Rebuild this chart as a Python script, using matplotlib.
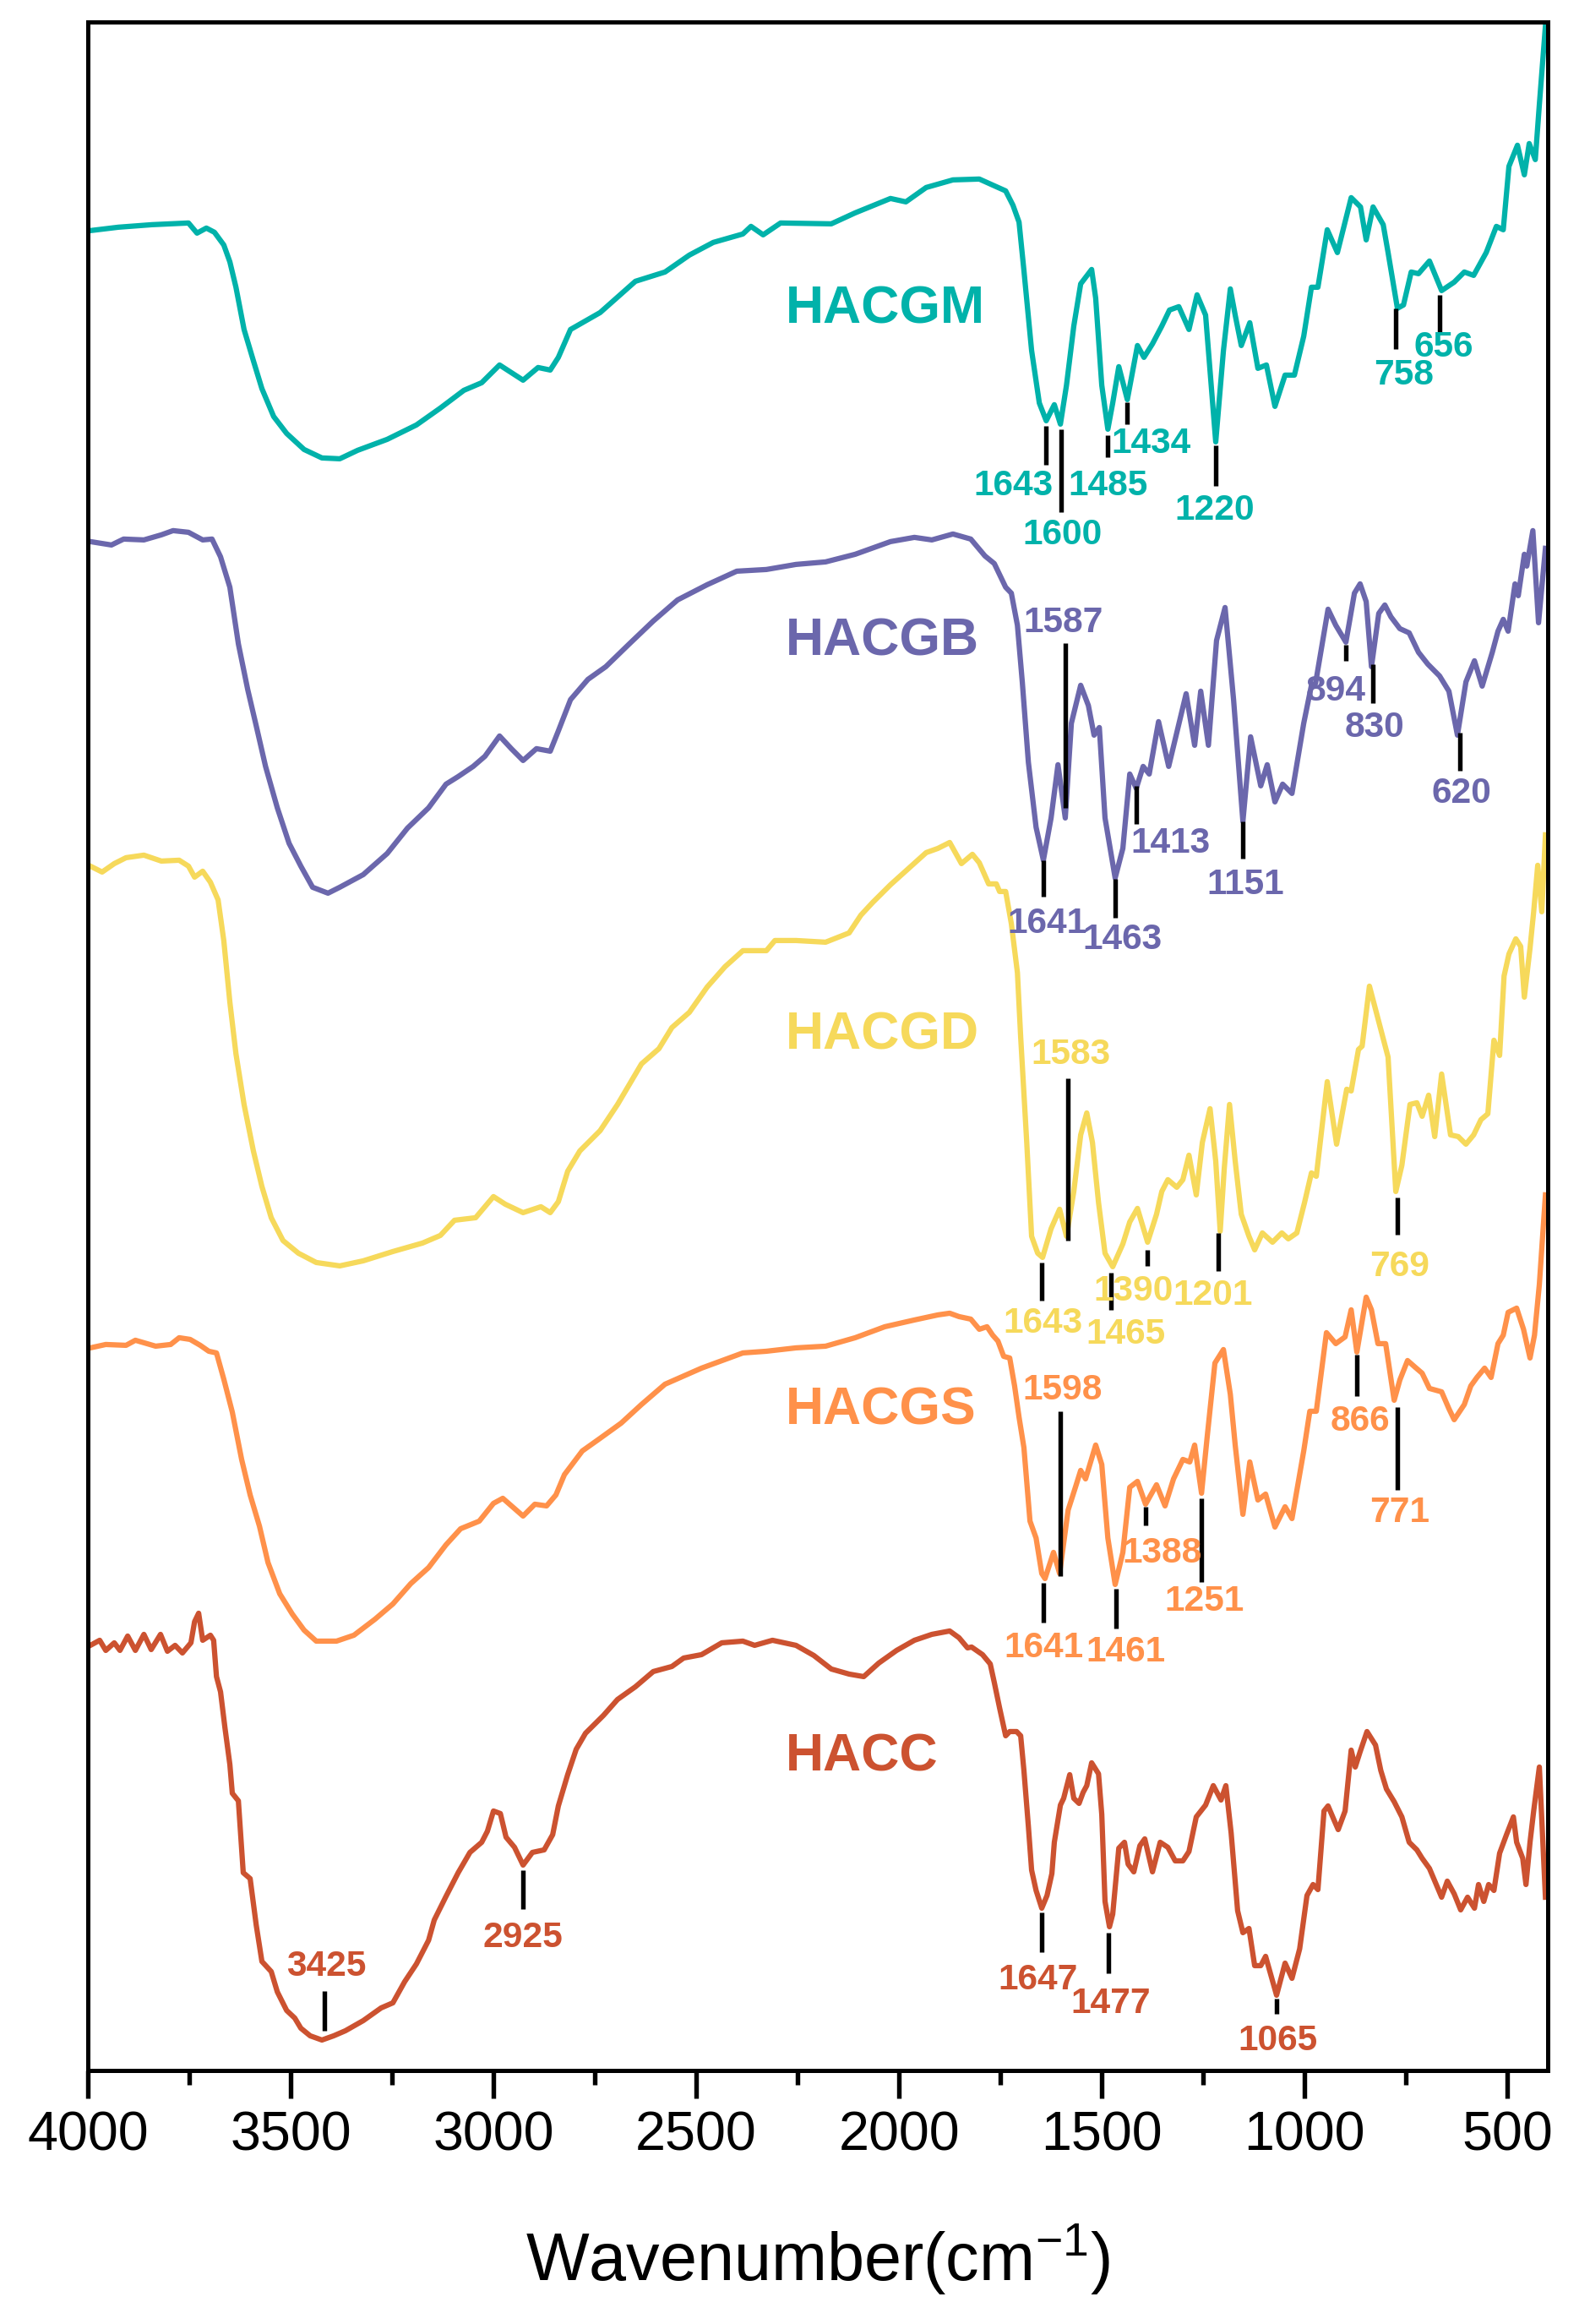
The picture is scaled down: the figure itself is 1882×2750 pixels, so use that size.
import matplotlib
matplotlib.use("Agg")
import matplotlib.pyplot as plt
from matplotlib.ticker import MultipleLocator

# -----------------------------------
# FTIR spectra (offset transmittance, a.u.)
# -----------------------------------

wn_hacgm = [3994, 3925, 3842, 3752, 3731, 3708, 3688, 3665, 3650, 3635, 3615, 3592, 3571, 3542,
            3510, 3467, 3423, 3379, 3335, 3262, 3190, 3131, 3073, 3029, 2985, 2927, 2890, 2860,
            2840, 2810, 2737, 2650, 2577, 2517, 2458, 2385, 2365, 2335, 2292, 2167, 2108, 2021,
            1983, 1933, 1867, 1802, 1765, 1737, 1719, 1704, 1692, 1673, 1654, 1637, 1617, 1602,
            1587, 1569, 1552, 1525, 1515, 1500, 1485, 1473, 1458, 1437, 1412, 1396, 1375, 1352,
            1333, 1310, 1285, 1265, 1244, 1219, 1200, 1183, 1171, 1156, 1135, 1115, 1094, 1073,
            1048, 1025, 1002, 983, 967, 944, 919, 885, 862, 848, 831, 806, 794, 771, 756, 737,
            719, 692, 662, 631, 606, 583, 552, 527, 510, 496, 475, 458, 446, 431, 421, 406]
t_hacgm = [217.7, 218.1, 218.4, 218.6, 217.4, 218.0, 217.5, 216.0, 214.0, 211.0, 206.0, 202.3, 199.0, 195.7,
           193.7, 191.8, 190.8, 190.7, 191.7, 193.0, 194.7, 196.7, 198.8, 199.7, 201.8, 200.0, 201.5, 201.2,
           202.7, 206.0, 208.0, 211.7, 212.8, 214.8, 216.3, 217.3, 218.2, 217.2, 218.6, 218.5, 219.8, 221.5,
           221.1, 222.8, 223.7, 223.8, 223.0, 222.4, 220.7, 218.7, 213.0, 203.5, 197.3, 195.2, 197.1, 194.8,
           199.4, 206.4, 211.4, 213.1, 209.7, 199.4, 194.2, 197.3, 201.6, 197.7, 204.1, 202.7, 204.3, 206.4,
           208.3, 208.7, 206.0, 210.1, 207.7, 192.7, 203.5, 210.8, 207.7, 204.1, 206.8, 201.4, 201.8, 196.9,
           200.6, 200.6, 205.2, 211.0, 211.0, 217.8, 215.1, 221.6, 220.5, 216.6, 220.5, 218.4, 215.1, 208.5, 208.9, 212.8,
           212.6, 214.1, 210.6, 211.6, 212.8, 212.4, 215.1, 218.2, 217.8, 225.3, 227.8, 224.3, 228.0, 226.1, 232.6, 241.9]

wn_hacgb = [3994, 3942, 3912, 3862, 3819, 3790, 3752, 3717, 3694, 3673, 3650, 3629, 3606, 3585,
            3562, 3533, 3504, 3475, 3446, 3408, 3379, 3321, 3262, 3212, 3160, 3117, 3087, 3050,
            3021, 2985, 2956, 2927, 2894, 2860, 2840, 2810, 2767, 2723, 2665, 2606, 2546, 2473,
            2400, 2327, 2254, 2181, 2108, 2021, 1962, 1919, 1867, 1823, 1788, 1765, 1737, 1723,
            1708, 1696, 1681, 1662, 1644, 1625, 1608, 1590, 1575, 1552, 1533, 1519, 1506, 1492,
            1467, 1448, 1431, 1415, 1398, 1383, 1360, 1335, 1292, 1271, 1256, 1237, 1217, 1196,
            1175, 1152, 1133, 1108, 1092, 1073, 1054, 1031, 1002, 983, 973, 942, 923, 898, 877,
            863, 848, 835, 817, 802, 787, 765, 742, 719, 696, 667, 644, 623, 602, 581, 562, 537,
            523, 510, 498, 481, 473, 458, 452, 437, 423, 406]
t_hacgb = [180.9, 180.5, 181.2, 181.1, 181.7, 182.2, 182.0, 181.1, 181.2, 179.1, 175.5, 168.8, 163.4, 159.1,
           154.3, 149.4, 145.2, 142.5, 140.0, 139.3, 140.0, 141.5, 144.0, 147.0, 149.4, 152.2, 153.1, 154.3,
           155.5, 157.9, 156.4, 155.0, 156.4, 156.1, 158.5, 162.2, 164.6, 166.1, 168.8, 171.5, 174.0, 175.8,
           177.4, 177.6, 178.2, 178.5, 179.4, 180.9, 181.4, 181.1, 181.8, 181.2, 179.2, 178.3, 175.5, 174.8,
           171.0, 164.3, 154.8, 147.1, 143.2, 148.2, 154.5, 148.2, 159.4, 163.9, 161.5, 158.0, 158.9, 148.2,
           141.1, 144.6, 153.4, 151.7, 154.3, 153.4, 159.6, 154.3, 162.9, 156.8, 163.2, 156.8, 169.2, 173.1,
           162.2, 147.8, 157.8, 152.0, 154.5, 150.1, 152.2, 151.1, 159.4, 163.9, 164.1, 172.9, 171.0, 169.0, 174.8,
           175.9, 173.8, 166.1, 172.4, 173.4, 172.0, 170.6, 170.1, 167.8, 166.4, 165.0, 163.2, 158.0, 164.3, 166.8, 163.8, 167.8,
           170.3, 171.7, 170.3, 175.9, 174.5, 179.4, 178.0, 182.2, 171.3, 180.1]

wn_hacgd = [3994, 3965, 3935, 3906, 3862, 3819, 3775, 3752, 3737, 3717, 3698, 3679, 3665, 3650,
            3635, 3615, 3592, 3571, 3548, 3519, 3481, 3437, 3379, 3321, 3248, 3175, 3131, 3096,
            3044, 3000, 2971, 2927, 2883, 2860, 2840, 2817, 2787, 2737, 2694, 2635, 2592, 2560,
            2517, 2473, 2429, 2385, 2327, 2306, 2254, 2181, 2123, 2094, 2065, 2021, 1977, 1933,
            1904, 1875, 1846, 1819, 1802, 1779, 1760, 1752, 1737, 1723, 1708, 1700, 1685, 1673,
            1658, 1646, 1625, 1604, 1587, 1569, 1552, 1537, 1523, 1508, 1492, 1473, 1448, 1431,
            1412, 1387, 1365, 1352, 1337, 1315, 1300, 1285, 1267, 1252, 1233, 1219, 1208, 1198,
            1185, 1171, 1156, 1137, 1123, 1104, 1079, 1056, 1040, 1019, 1000, 983, 971, 944, 921,
            896, 885, 867, 858, 840, 817, 794, 775, 760, 740, 723, 710, 694, 679, 662, 640, 621,
            602, 583, 565, 548, 533, 519, 508, 496, 479, 467, 458, 444, 435, 425, 415, 406]
t_hacgd = [142.5, 141.8, 142.8, 143.5, 143.8, 143.1, 143.2, 142.5, 141.2, 141.9, 140.6, 138.5, 133.7, 126.4,
           120.3, 114.3, 108.8, 104.6, 100.9, 98.2, 96.7, 95.6, 95.2, 95.8, 96.9, 97.9, 98.8, 100.6,
           100.9, 103.4, 102.5, 101.5, 102.2, 101.5, 102.8, 106.4, 108.8, 111.2, 114.3, 119.1, 120.9, 123.4,
           125.2, 128.2, 130.6, 132.5, 132.5, 133.7, 133.7, 133.5, 134.6, 136.7, 138.2, 140.3, 142.2, 144.1,
           144.6, 145.3, 142.8, 143.9, 142.9, 140.4, 140.4, 139.5, 139.5, 135.7, 129.9, 122.3, 109.8, 98.7,
           96.7, 96.2, 99.6, 101.9, 98.7, 104.0, 110.7, 113.3, 109.8, 102.7, 96.7, 95.1, 97.8, 100.4,
           102.0, 98.0, 101.3, 104.0, 105.4, 104.5, 105.4, 108.3, 103.6, 109.8, 113.8, 107.6, 99.3, 106.7,
           114.3, 107.6, 101.3, 98.7, 97.1, 99.1, 98.0, 99.1, 98.4, 99.1, 102.7, 106.2, 105.8, 117.0, 109.6,
           116.1, 115.9, 120.8, 121.2, 128.3, 124.1, 119.9, 104.0, 107.1, 114.3, 114.5, 112.9, 115.4, 110.5, 117.9, 110.7, 110.5,
           109.6, 110.7, 112.5, 113.2, 121.9, 120.1, 129.5, 132.1, 133.9, 133.0, 127.0, 132.8, 137.1, 142.6, 137.1, 146.2]

wn_hacgs = [3994, 3956, 3906, 3883, 3833, 3796, 3775, 3748, 3723, 3702, 3683, 3665, 3644, 3621,
            3600, 3577, 3556, 3527, 3496, 3467, 3437, 3387, 3344, 3292, 3248, 3204, 3160, 3117,
            3081, 3035, 3000, 2977, 2927, 2898, 2869, 2846, 2825, 2781, 2737, 2685, 2635, 2577,
            2487, 2385, 2327, 2254, 2181, 2108, 2035, 1962, 1904, 1875, 1852, 1823, 1802, 1783,
            1769, 1756, 1742, 1727, 1715, 1704, 1692, 1677, 1662, 1648, 1640, 1619, 1604, 1583,
            1565, 1552, 1540, 1515, 1500, 1485, 1467, 1448, 1431, 1412, 1392, 1365, 1344, 1323,
            1300, 1283, 1271, 1254, 1240, 1221, 1200, 1183, 1171, 1152, 1135, 1115, 1096, 1073,
            1048, 1031, 1002, 987, 971, 946, 923, 900, 885, 871, 848, 835, 819, 800, 779, 765,
            746, 727, 710, 692, 662, 644, 631, 606, 590, 575, 556, 540, 523, 510, 498, 477, 460,
            444, 433, 421, 406]
t_hacgs = [85.5, 85.9, 85.8, 86.4, 85.7, 85.9, 86.7, 86.5, 85.8, 85.1, 84.9, 81.8, 77.9, 72.3,
           68.1, 64.4, 60.1, 56.4, 54.0, 52.1, 50.8, 50.8, 51.5, 53.4, 55.2, 57.6, 59.5, 62.2,
           64.1, 65.0, 67.1, 67.7, 65.6, 67.0, 66.8, 68.1, 70.5, 73.3, 74.8, 76.6, 78.8, 81.2,
           83.1, 84.9, 85.1, 85.5, 85.7, 86.7, 88.0, 88.8, 89.4, 89.6, 89.2, 88.9, 87.7, 88.0,
           87.0, 86.3, 84.5, 84.3, 81.0, 77.3, 73.7, 65.0, 63.0, 58.8, 58.2, 61.3, 58.8, 66.3,
           69.0, 71.0, 70.0, 74.0, 71.7, 63.0, 57.5, 61.3, 69.0, 69.7, 67.0, 69.3, 66.8, 70.0,
           72.3, 72.0, 74.0, 68.3, 75.0, 83.7, 85.3, 80.0, 74.0, 65.8, 72.0, 67.5, 68.2, 64.3,
           66.7, 65.3, 73.3, 78.0, 78.0, 87.3, 86.0, 86.8, 90.0, 85.0, 91.5, 90.0, 86.0, 86.0, 79.3, 81.7,
           84.0, 83.2, 82.5, 80.7, 80.3, 78.3, 77.0, 78.8, 81.0, 82.0, 83.1, 82.0, 86.0, 87.0, 89.7, 90.2, 87.7,
           84.3, 87.0, 93.0, 103.6]

wn_hacc = [3994, 3971, 3956, 3935, 3921, 3902, 3883, 3862, 3844, 3821, 3804, 3785, 3767, 3746,
           3737, 3727, 3717, 3698, 3690, 3683, 3673, 3662, 3650, 3644, 3629, 3617, 3600, 3585,
           3571, 3548, 3533, 3510, 3490, 3475, 3452, 3423, 3394, 3365, 3321, 3277, 3248, 3219,
           3190, 3160, 3146, 3117, 3087, 3058, 3029, 3015, 3000, 2983, 2969, 2948, 2927, 2904,
           2875, 2854, 2840, 2817, 2796, 2773, 2729, 2694, 2650, 2606, 2560, 2531, 2487, 2437,
           2385, 2356, 2312, 2254, 2210, 2167, 2123, 2087, 2050, 2006, 1962, 1919, 1875, 1852,
           1831, 1821, 1794, 1775, 1765, 1752, 1737, 1727, 1710, 1700, 1692, 1681, 1673, 1662,
           1648, 1635, 1623, 1617, 1602, 1594, 1579, 1569, 1556, 1546, 1537, 1525, 1508, 1500,
           1492, 1481, 1473, 1458, 1444, 1435, 1421, 1406, 1394, 1375, 1356, 1337, 1319, 1300,
           1285, 1267, 1244, 1225, 1206, 1194, 1181, 1165, 1152, 1137, 1123, 1108, 1096, 1069,
           1048, 1031, 1012, 994, 979, 967, 952, 942, 927, 917, 900, 885, 875, 863, 846, 825,
           812, 798, 779, 760, 742, 723, 710, 692, 677, 662, 648, 631, 615, 598, 581, 571, 558,
           546, 533, 519, 502, 485, 477, 462, 454, 444, 435, 421, 406]
t_hacc = [50.3, 50.9, 49.7, 50.6, 49.7, 51.4, 49.7, 51.6, 49.8, 51.6, 49.6, 50.3, 49.4, 50.6,
          53.1, 54.1, 50.9, 51.5, 50.9, 46.6, 44.8, 40.5, 36.2, 32.8, 31.9, 23.4, 22.7, 17.2,
          12.9, 11.7, 9.3, 7.1, 6.2, 5.0, 4.1, 3.6, 4.1, 4.7, 5.9, 7.4, 8.0, 10.5,
          12.6, 15.4, 17.8, 20.6, 23.4, 25.8, 27.0, 28.3, 30.7, 30.4, 27.6, 26.4, 24.3, 25.8,
          26.1, 27.9, 31.3, 35.0, 38.0, 39.9, 42.0, 43.9, 45.4, 47.2, 47.8, 48.8, 49.2, 50.6,
          50.8, 50.3, 50.9, 50.3, 49.1, 47.5, 46.9, 46.6, 48.2, 49.7, 50.9, 51.6, 52.0, 51.2,
          50.0, 50.1, 49.2, 48.1, 45.9, 42.9, 39.6, 40.1, 40.1, 39.6, 35.5, 28.9, 23.7, 21.3,
          19.2, 20.7, 23.3, 27.0, 31.4, 32.2, 35.0, 32.2, 31.6, 32.9, 33.7, 36.4, 35.1, 30.3,
          20.0, 17.0, 18.5, 26.3, 27.0, 24.4, 23.5, 26.6, 27.4, 23.5, 27.0, 26.4, 24.8, 24.8,
          25.9, 30.0, 31.4, 33.7, 32.0, 33.7, 28.1, 18.9, 16.3, 16.8, 12.4, 12.4, 13.5, 8.9,
          12.7, 10.9, 14.4, 20.7, 22.0, 21.4, 30.7, 31.3, 29.6, 28.5, 30.7, 37.9, 35.9, 37.7, 40.1, 38.5,
          35.5, 33.3, 31.8, 30.0, 27.0, 26.1, 25.1, 23.9, 22.2, 20.5, 22.4, 20.9, 19.0, 20.5, 19.2, 22.0, 20.0,
          22.0, 21.3, 25.7, 27.9, 30.0, 27.0, 25.1, 22.0, 27.0, 30.7, 35.9, 20.5]

names = ['HACGM', 'HACGB', 'HACGD', 'HACGS', 'HACC']
colors = ['#00B2AA', '#6B67AC', '#F6D95B', '#FF914A', '#CC5230']
spectra = [(wn_hacgm, t_hacgm), (wn_hacgb, t_hacgb), (wn_hacgd, t_hacgd),
           (wn_hacgs, t_hacgs), (wn_hacc, t_hacc)]

# peak labels for each sample
peaks_hacgm = ['1643', '1600', '1485', '1434', '1220', '758', '656']
peaks_hacgb = ['1587', '1641', '1463', '1413', '1151', '894', '830', '620']
peaks_hacgd = ['1583', '1643', '1465', '1390', '1201', '769']
peaks_hacgs = ['1598', '1641', '1461', '1388', '1251', '866', '771']
peaks_hacc = ['3425', '2925', '1647', '1477', '1065']
peak_lists = [peaks_hacgm, peaks_hacgb, peaks_hacgd, peaks_hacgs, peaks_hacc]

# -----------------------------------
# marker layout: (line x, line y0, line y1, text x, text y)
# -----------------------------------
marks = [
    [(1637, 194.6, 190.0, 1719, 187.5), (1600, 194.2, 184.4, 1598, 181.7),
     (1485, 193.5, 190.9, 1485, 187.5), (1437, 197.4, 194.8, 1379, 192.5),
     (1219, 192.3, 187.5, 1221, 184.6), (775, 208.5, 203.7, 756, 200.6),
     (667, 210.1, 205.6, 656, 203.9)],
    [(1590, 168.9, 149.4, 1594, 171.3), (1644, 143.2, 138.9, 1635, 135.7),
     (1467, 141.0, 136.4, 1450, 133.8), (1415, 152.0, 147.5, 1331, 145.2),
     (1152, 147.8, 143.4, 1146, 140.3), (898, 168.7, 166.8, 923, 163.2),
     (831, 166.4, 161.8, 827, 158.9), (617, 158.3, 153.8, 613, 151.1)],
    [(1583, 117.4, 98.2, 1577, 120.2), (1648, 95.6, 91.1, 1646, 88.4),
     (1477, 94.4, 90.0, 1442, 87.1), (1387, 97.1, 95.2, 1423, 92.2),
     (1213, 99.1, 94.6, 1227, 91.7), (771, 103.3, 98.9, 765, 95.1)],
    [(1602, 78.0, 58.5, 1596, 80.5), (1644, 57.7, 53.0, 1644, 50.0),
     (1465, 57.0, 52.3, 1442, 49.5), (1392, 66.7, 64.5, 1352, 61.2),
     (1254, 67.7, 57.8, 1248, 55.5), (871, 84.7, 79.8, 862, 76.8),
     (771, 78.5, 68.7, 765, 66.0)],
    [(3417, 9.4, 4.7, 3412, 12.3), (2927, 23.7, 19.1, 2927, 15.7),
     (1648, 18.7, 14.0, 1658, 10.7), (1483, 16.3, 11.5, 1477, 7.9),
     (1069, 8.5, 6.7, 1067, 3.5)],
]
name_y = [208.4, 169.1, 122.5, 78.1, 37.1]

# -----------------------------------
# Plot
# -----------------------------------
plt.rcParams['font.family'] = ['Liberation Sans', 'DejaVu Sans']
plt.rcParams['mathtext.fontset'] = 'custom'
plt.rcParams['mathtext.rm'] = 'Liberation Sans'
plt.rcParams['mathtext.it'] = 'Liberation Sans:italic'

fig = plt.figure(figsize=(1882 / 300, 2750 / 300), dpi=300)
ax = fig.add_axes([0.0553, 0.1091, 0.9182, 0.8815])

for (wn, t), c in zip(spectra, colors):
    ax.plot(wn, t, color=c, lw=1.5, solid_joinstyle='round')

for name, c, y in zip(names, colors, name_y):
    ax.text(2279, y, name, color=c, fontsize=15, fontweight='bold',
            ha='left', va='center')

for labels, layout, c in zip(peak_lists, marks, colors):
    for lab, (lx, y0, y1, tx, ty) in zip(labels, layout):
        ax.plot([lx, lx], [y0, y1], color='black', lw=1.3, solid_capstyle='butt')
        ax.text(tx, ty, lab, color=c, fontsize=10.2, fontweight='bold',
                ha='center', va='center')

ax.set_xlim(4000, 400)
ax.set_ylim(0, 242.4)
ax.set_yticks([])
ax.xaxis.set_major_locator(MultipleLocator(500))
ax.xaxis.set_minor_locator(MultipleLocator(250))
ax.tick_params(axis='x', which='major', direction='out', length=8, width=1.3, pad=3.5, labelsize=15.5)
ax.tick_params(axis='x', which='minor', direction='out', length=4, width=1.3)
for sp in ax.spines.values():
    sp.set_linewidth(1.2)

ax.set_xlabel('Wavenumber(cm$^{-1}$)', fontsize=19, labelpad=17)

fig.savefig('out.png', dpi=300)
